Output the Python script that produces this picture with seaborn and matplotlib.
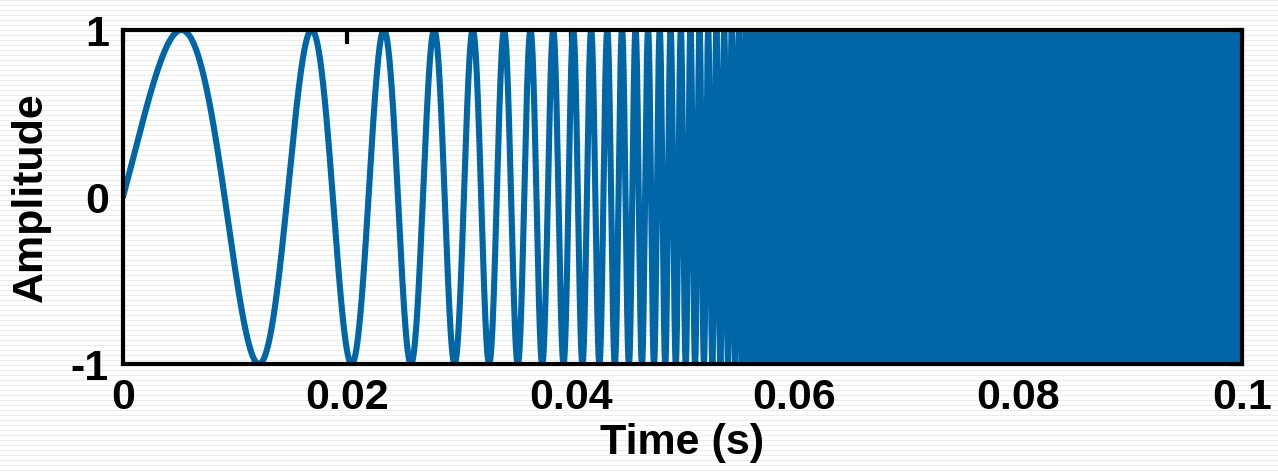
import numpy as np
import matplotlib
matplotlib.use("Agg")
import matplotlib.pyplot as plt
import seaborn as sns

# chirp parameters (exponential sweep)
start_freq_hz = 40.0        # instantaneous frequency at t = 0
sweep_rate = 67.0           # 1/s, f(t) = f0 * exp(rate * t)
t_end = 0.0997              # last sample (s)
n_samples = 20000

x_ticks = [0, 0.02, 0.04, 0.06, 0.08, 0.1]
x_tick_labels = ["0", "0.02", "0.04", "0.06", "0.08", "0.1"]
y_ticks = [-1, 0, 1]
y_tick_labels = ["-1", "0", "1"]

t = np.linspace(0, t_end, n_samples)
phase = 2 * np.pi * start_freq_hz * (np.exp(sweep_rate * t) - 1) / sweep_rate
amp = np.sin(phase)

sns.set_theme(style="white")
plt.rcParams["font.family"] = ["Liberation Sans", "DejaVu Sans"]
plt.rcParams["text.color"] = "black"
plt.rcParams["axes.labelcolor"] = "black"

fig = plt.figure(figsize=(12.78, 4.73), dpi=100)

# faint scan-line background
bg = np.ones((473, 1278))
bg[::5, :] = 0.92
fig.figimage(bg, cmap="gray", vmin=0, vmax=1, zorder=-10)

ax = fig.add_axes([123 / 1278, 1 - 364 / 473, (1242 - 123) / 1278, (364 - 30) / 473])
ax.patch.set_alpha(0)

sns.lineplot(x=t, y=amp, ax=ax, color="#0066a6", linewidth=4.4,
             estimator=None, sort=False)

ax.set_xlim(0, 0.1)
ax.set_ylim(-1, 1)
ax.set_xticks(x_ticks)
ax.set_xticklabels(x_tick_labels, fontweight="bold")
ax.set_yticks(y_ticks)
ax.set_yticklabels(y_tick_labels, fontweight="bold")
ax.tick_params(direction="in", length=10, width=3, labelsize=31, colors="black",
               top=True, right=True)
ax.tick_params(axis="x", pad=10)
ax.tick_params(axis="y", pad=10)
for s in ax.spines.values():
    s.set_visible(True)
    s.set_color("black")
    s.set_linewidth(3)

ax.set_xlabel("Time (s)", fontsize=31, fontweight="bold", labelpad=4)
ax.set_ylabel("Amplitude", fontsize=31, fontweight="bold", labelpad=14)

plt.savefig("out.png", dpi=100)
plt.close()
